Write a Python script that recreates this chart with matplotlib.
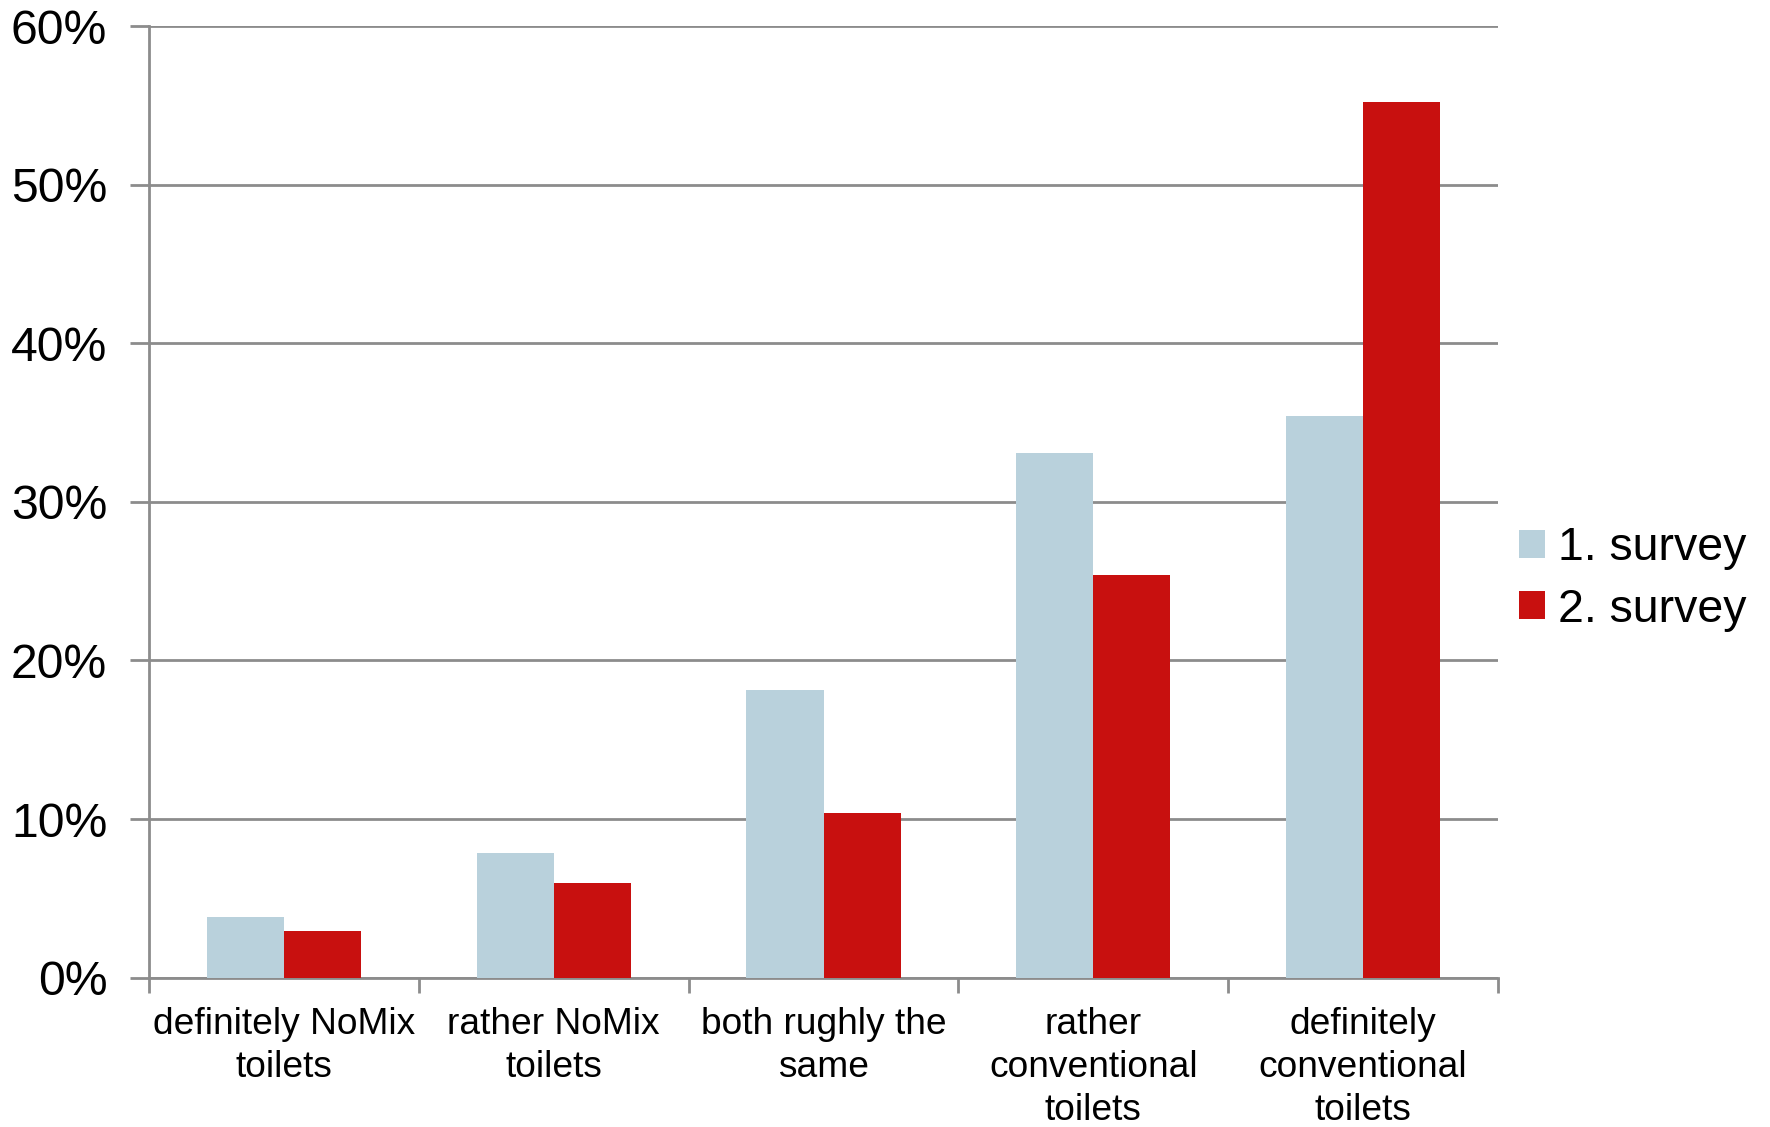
import matplotlib
matplotlib.use("Agg")
import matplotlib.pyplot as plt
import numpy as np
from matplotlib.patches import Patch
from matplotlib.ticker import FixedLocator, PercentFormatter

plt.rcParams['font.family'] = ['Liberation Sans', 'DejaVu Sans']

categories = [
    "definitely NoMix\ntoilets",
    "rather NoMix\ntoilets",
    "both rughly the\nsame",
    "rather\nconventional\ntoilets",
    "definitely\nconventional\ntoilets",
]
series_names = ["1. survey", "2. survey"]
survey1 = [3.85, 7.88, 18.15, 33.1, 35.4]
survey2 = [2.96, 5.97, 10.4, 25.4, 55.2]
y_ticks = [0, 10, 20, 30, 40, 50, 60]

color1 = "#B9D1DC"
color2 = "#C8100F"
grid_color = "#8C8C8C"

W, H = 1770, 1127
fig = plt.figure(figsize=(W / 100, H / 100), dpi=100)
ax = fig.add_axes([149 / W, 1 - 977.7 / H, (1498 - 149) / W, (977.7 - 26) / H])

x = np.arange(len(categories))
bw = 1 / 3.5
ax.bar(x - bw / 2, survey1, width=bw, color=color1, zorder=3)
ax.bar(x + bw / 2, survey2, width=bw, color=color2, zorder=3)

ax.set_xlim(-0.5, len(categories) - 0.5)
ax.set_ylim(0, 60)

ax.set_yticks(y_ticks)
ax.yaxis.set_major_formatter(PercentFormatter(decimals=0))
ax.yaxis.grid(True, color=grid_color, linewidth=2, zorder=0)
ax.set_axisbelow(True)

ax.set_xticks(x)
ax.set_xticklabels(categories, fontsize=26.7, linespacing=1.3)
ax.xaxis.set_minor_locator(FixedLocator(np.arange(-0.5, len(categories), 1.0)))
ax.tick_params(axis='x', which='major', length=0, pad=21)
ax.tick_params(axis='x', which='minor', length=11, width=2, color=grid_color)
ax.tick_params(axis='y', which='major', length=14, width=2, color=grid_color,
               labelsize=34.7, pad=16)

for side in ("top", "right"):
    ax.spines[side].set_visible(False)
for side in ("left", "bottom"):
    ax.spines[side].set_color(grid_color)
    ax.spines[side].set_linewidth(2)

handles = [Patch(facecolor=color1), Patch(facecolor=color2)]
fig.legend(handles, series_names, loc='center left',
           bbox_to_anchor=(1510 / W, 1 - 579 / H), frameon=False,
           fontsize=33.5, handlelength=0.55, handleheight=0.55,
           handletextpad=0.28, labelspacing=0.38, borderaxespad=0,
           borderpad=0.2)

fig.savefig("out.png", dpi=100, facecolor="white")
